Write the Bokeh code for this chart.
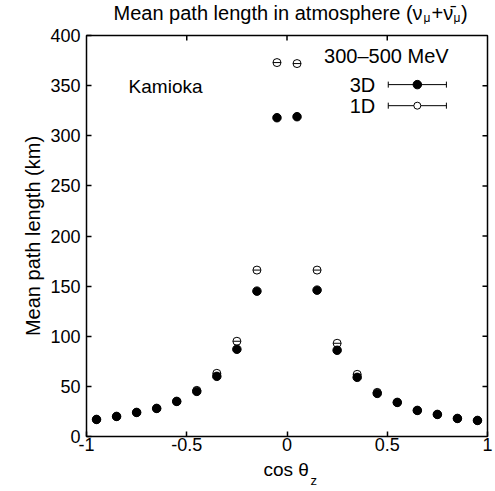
from bokeh.plotting import figure
from bokeh.models import Range1d, FixedTicker
from bokeh.layouts import column
from bokeh.core.properties import value
from bokeh.embed import file_html
from bokeh.resources import INLINE

# ---- data ----
cos_z = [-0.95, -0.85, -0.75, -0.65, -0.55, -0.45, -0.35, -0.25, -0.15, -0.05,
         0.05, 0.15, 0.25, 0.35, 0.45, 0.55, 0.65, 0.75, 0.85, 0.95]
path_3d = [17, 20, 24, 28, 35, 45, 60, 87, 145, 318,
           319, 146, 86, 59, 43, 34, 26, 22, 18, 16]
path_1d = [17, 20, 24, 28, 35, 46, 63, 95, 166, 373,
           372, 166, 93, 62, 44, 34, 26, 22, 18, 16]
x_ticks = [-1, -0.5, 0, 0.5, 1]
x_tick_labels = ["-1", "-0.5", "0", "0.5", "1"]
y_ticks = [0, 50, 100, 150, 200, 250, 300, 350, 400]

FONT = "Liberation Sans"
W = 495
HEAD_H = 24
FOOT_H = 34


def strip_fig(h):
    # strips share the main plot's x scale (frames are aligned by the column layout)
    f = figure(width=W, height=h, x_range=Range1d(-1, 1), y_range=Range1d(h, 0),
               output_backend="svg", toolbar_location=None, title=None,
               min_border=0, min_border_left=0, min_border_right=0,
               min_border_top=0, min_border_bottom=0)
    f.axis.visible = False
    f.grid.visible = False
    f.outline_line_color = None
    f.background_fill_color = "white"
    f.border_fill_color = "white"
    return f


def txt(f, x, y, s, size, align="left"):
    f.text(x=[x], y=[y], text=[s], text_font=value(FONT), text_font_size=size,
           text_align=align, text_baseline="alphabetic", text_color="black")


# ---- title strip ----
head = strip_fig(HEAD_H)
txt(head, -0.8653, 12.6, "Mean path length in atmosphere (\u03bd", "20px")
txt(head, 0.6808, 17.6, "\u03bc", "12px")
txt(head, 0.7207, 12.6, "+\u03bd\u0304", "20px")
txt(head, 0.8304, 17.6, "\u03bc", "12px")
txt(head, 0.8678, 12.6, ")", "20px")

# ---- main plot ----
p = figure(width=W, height=11 + 401 + 21, x_range=Range1d(-1, 1), y_range=Range1d(0, 400),
           output_backend="svg", toolbar_location=None, title=None,
           min_border_left=86, min_border_right=8, min_border_top=11, min_border_bottom=21)
p.grid.visible = False
p.outline_line_color = "black"
p.outline_line_width = 1.5
p.background_fill_color = "white"
p.border_fill_color = "white"


def style_axis(ax):
    ax.major_tick_in = 5
    ax.major_tick_out = 0
    ax.minor_tick_in = 0
    ax.minor_tick_out = 0
    ax.major_tick_line_color = "black"
    ax.major_tick_line_width = 1.5
    ax.axis_line_color = None
    ax.major_label_text_font = FONT
    ax.major_label_text_color = "black"
    ax.major_label_text_font_size = "18px"


xa = p.xaxis[0]
xa.ticker = FixedTicker(ticks=x_ticks)
xa.major_label_overrides = {t: l for t, l in zip(x_ticks, x_tick_labels)}
style_axis(xa)
xa.major_label_standoff = 1

ya = p.yaxis[0]
ya.ticker = FixedTicker(ticks=y_ticks)
style_axis(ya)
ya.major_label_standoff = 6
ya.axis_label = "Mean path length (km)"
ya.axis_label_text_font = FONT
ya.axis_label_text_font_style = "normal"
ya.axis_label_text_font_size = "20px"
ya.axis_label_text_color = "black"
ya.axis_label_standoff = 3

# inward ticks on top and right edges
tick_len_y = 5.0
tick_len_x = 5.0 / 200.5
inner_x = [t for t in x_ticks if -1 < t < 1]
inner_y = [t for t in y_ticks if 0 < t < 400]
p.segment(x0=inner_x, y0=[400] * len(inner_x), x1=inner_x,
          y1=[400 - tick_len_y] * len(inner_x), line_color="black", line_width=1.5)
p.segment(x0=[1] * len(inner_y), y0=inner_y, x1=[1 - tick_len_x] * len(inner_y),
          y1=inner_y, line_color="black", line_width=1.5)

# ---- points ----
p.scatter(cos_z, path_1d, marker="circle", size=8, fill_color="white",
          line_color="black", line_width=1)
p.scatter(cos_z, path_1d, marker="dash", size=8, line_color="black", line_width=1)
p.scatter(cos_z, path_3d, marker="circle", size=8.5, fill_color="black",
          line_color="black")

# ---- legend sample ----
lx0, lx1, lxm = 0.505, 0.795, 0.65
for yy, filled in [(351, True), (330, False)]:
    p.segment(x0=[lx0], y0=[yy], x1=[lx1], y1=[yy], line_color="black", line_width=1)
    p.segment(x0=[lx0, lx1], y0=[yy - 3, yy - 3], x1=[lx0, lx1], y1=[yy + 3, yy + 3],
              line_color="black", line_width=1)
    p.scatter([lxm], [yy], marker="circle", size=8.5 if filled else 7,
              fill_color="black" if filled else "white", line_color="black", line_width=1)

txt(p, 0.185, 380, "300\u2013500 MeV", "20px")
txt(p, 0.44, 351, "3D", "20px", "right")
txt(p, 0.44, 330, "1D", "20px", "right")
txt(p, -0.79, 349, "Kamioka", "19px")

# ---- x-axis label strip ----
foot = strip_fig(FOOT_H)
txt(foot, -0.1172, 11.8, "cos \u03b8", "19px")
txt(foot, 0.1172, 22.6, "z", "13px")

layout = column(head, p, foot, spacing=0)
open("out.html", "w").write(file_html(layout, INLINE))
